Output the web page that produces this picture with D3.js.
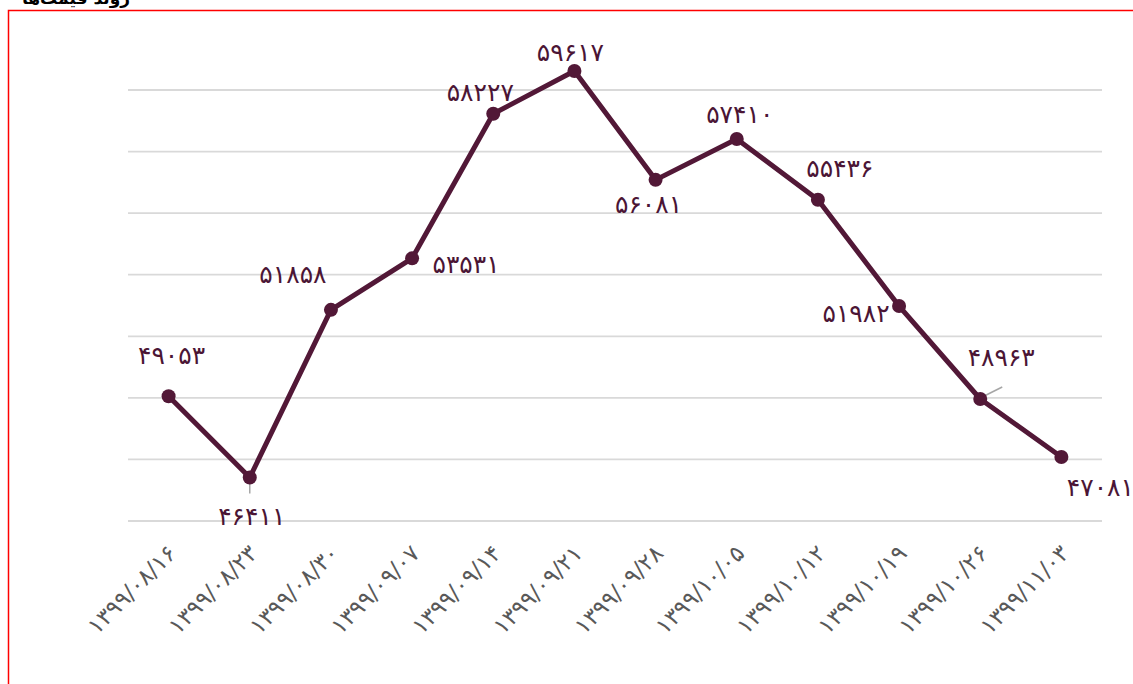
<!DOCTYPE html>
<html><head><meta charset="utf-8">
<script src="https://cdn.jsdelivr.net/npm/d3@7/dist/d3.min.js"></script>
<style>
html,body{margin:0;padding:0;background:#fff;overflow:hidden;}
svg{display:block;font-family:"DejaVu Sans","Noto Sans",sans-serif;}
</style></head>
<body>
<script>
const categories = ["۱۳۹۹/۰۸/۱۶","۱۳۹۹/۰۸/۲۳","۱۳۹۹/۰۸/۳۰","۱۳۹۹/۰۹/۰۷","۱۳۹۹/۰۹/۱۴","۱۳۹۹/۰۹/۲۱","۱۳۹۹/۰۹/۲۸","۱۳۹۹/۱۰/۰۵","۱۳۹۹/۱۰/۱۲","۱۳۹۹/۱۰/۱۹","۱۳۹۹/۱۰/۲۶","۱۳۹۹/۱۱/۰۳"];
const values = [49053,46411,51858,53531,58227,59617,56081,57410,55436,51982,48963,47081];
const gridValues = [45000,47000,49000,51000,53000,55000,57000,59000];
// label placement offsets (relative to point): dx, dy of text baseline center
const labelOffsets = [[3,-32],[2,47],[-38,-27],[54,15],[-13,-13],[-4,-10],[-7,33],[3,-16],[22,-23],[-43,16],[21,-33],[39,39]];
const leaderLines = {1:[[0,6],[0,16]],10:[[2,-2],[22,-12]]};

const W=1133,H=684;
const svg=d3.select("body").append("svg").attr("width",W).attr("height",H);

// frame
svg.append("rect").attr("x",8.5).attr("y",10.5).attr("width",W+20).attr("height",H+20)
  .attr("fill","none").attr("stroke","#ff0000").attr("stroke-width",1.5);
// clipped title (also clipped in the reference)
svg.append("text").attr("x",130).attr("y",4).attr("text-anchor","start")
  .attr("font-size",17).attr("font-weight","bold").attr("fill","#000").attr("direction","rtl")
  .text("روند قیمت‌ها");

const x=d3.scalePoint().domain(categories).range([168.6,1061.4]);
const y=d3.scaleLinear().domain([45000,59000]).range([521,90]);

const g=svg.append("g");
g.selectAll(".grid").data(gridValues).enter().append("line")
  .attr("x1",128).attr("x2",1102).attr("y1",d=>y(d)).attr("y2",d=>y(d))
  .attr("stroke","#d9d9d9").attr("stroke-width",1.8);

// x axis labels
const xAxis=d3.axisBottom(x).tickSize(0).tickPadding(0);
const ax=svg.append("g").attr("transform","translate(0,536)").call(xAxis);
ax.select(".domain").remove();
ax.selectAll("text").attr("font-size",23).attr("fill","#595959")
  .attr("font-family","DejaVu Sans, sans-serif").attr("letter-spacing",3)
  .attr("text-anchor","end").attr("dy","0.35em").attr("dx","0")
  .attr("transform","translate(3,13) rotate(-45)");

const data=categories.map((c,i)=>({c,v:values[i],i}));
// leader lines
Object.keys(leaderLines).forEach(k=>{
  const d=data[+k], L=leaderLines[k];
  svg.append("line").attr("x1",x(d.c)+L[0][0]).attr("y1",y(d.v)+L[0][1])
    .attr("x2",x(d.c)+L[1][0]).attr("y2",y(d.v)+L[1][1])
    .attr("stroke","#a6a6a6").attr("stroke-width",1.5);
});
svg.append("path").datum(data)
  .attr("d",d3.line().x(d=>x(d.c)).y(d=>y(d.v)))
  .attr("fill","none").attr("stroke","#521837").attr("stroke-width",5).attr("stroke-linejoin","round");
svg.selectAll(".pt").data(data).enter().append("circle")
  .attr("cx",d=>x(d.c)).attr("cy",d=>y(d.v)).attr("r",7).attr("fill","#521837");

const fmt=v=>String(v).replace(/\d/g,ch=>"۰۱۲۳۴۵۶۷۸۹"[+ch]);
svg.selectAll(".lbl").data(data).enter().append("text")
  .attr("x",d=>x(d.c)+labelOffsets[d.i][0]).attr("y",d=>y(d.v)+labelOffsets[d.i][1])
  .attr("text-anchor","middle").attr("font-size",25).attr("letter-spacing",1).attr("fill","#4b1535")
  .text(d=>fmt(d.v));
</script>
</body></html>
